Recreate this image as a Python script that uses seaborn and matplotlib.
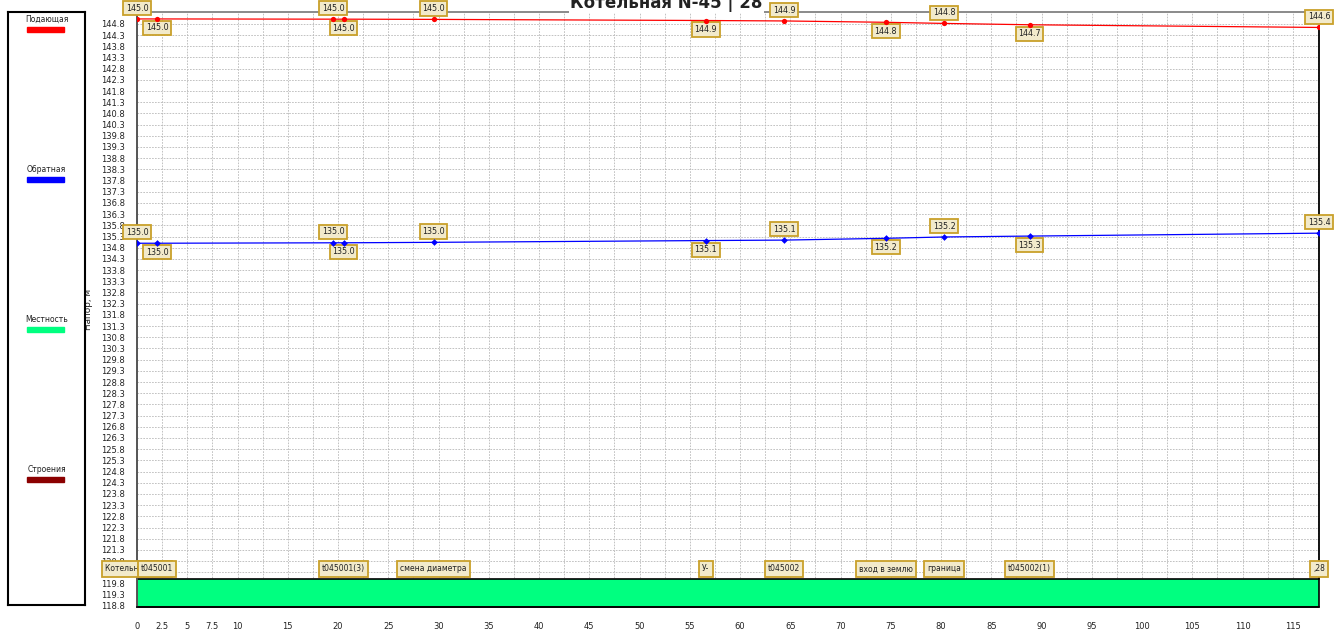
import numpy as np
import pandas as pd
import matplotlib
matplotlib.use("Agg")
import matplotlib.pyplot as plt
import seaborn as sns

# ---------------- data ----------------
title = "Котельная N-45 | 28"
node_x = [0.0, 2.0, 19.5, 20.55, 29.5, 56.6, 64.4, 74.5, 80.3, 88.8, 117.6]
supply = [145.02, 145.02, 145.01, 145.01, 145.0, 144.95, 144.93, 144.87, 144.82, 144.76, 144.64]
return_ = [135.0, 135.0, 135.02, 135.02, 135.04, 135.12, 135.14, 135.22, 135.28, 135.32, 135.45]
terrain = [120.0] * 11
node_names = ["Котельная N-45", "t045001", "", "t045001(3)", "смена диаметра", "У-",
              "t045002", "вход в землю", "граница", "t045002(1)", ",28"]
legend_names = ["Подающая", "Обратная", "Местность", "Строения"]
legend_colors = ["#ff0000", "#0000ff", "#00ff80", "#8b0000"]
y_ticks = [round(118.8 + 0.5 * i, 1) for i in range(53)]
x_labeled = [0, 2.5, 5, 7.5, 10] + list(range(15, 116, 5))

df = pd.DataFrame({"x": node_x, "supply": supply, "ret": return_, "terrain": terrain})

# ---------------- figure ----------------
sns.set_theme(style="white")
plt.rcParams["font.family"] = ["DejaVu Sans"]
W, H = 1341, 636
fig = plt.figure(figsize=(W / 100, H / 100), dpi=100)

def px_rect(l, t, r, b):
    return [l / W, 1 - b / H, (r - l) / W, (b - t) / H]

ax = fig.add_axes(px_rect(137, 12, 1319, 607))
ymin, ymax = 118.75, 145.33
xmax = 117.6
ax.set_xlim(0, xmax)
ax.set_ylim(ymin, ymax)

# terrain
ax.fill_between(df["x"], ymin, df["terrain"], color="#00ff80", edgecolor="black",
                linewidth=1.2, zorder=2)

# lines
sns.lineplot(data=df, x="x", y="supply", ax=ax, color="#ff0000", lw=0.9,
             marker="o", markersize=3.8, markeredgewidth=0, zorder=7, estimator=None)
sns.lineplot(data=df, x="x", y="ret", ax=ax, color="#0000ff", lw=0.9,
             marker="D", markersize=3.4, markeredgewidth=0, zorder=7, estimator=None)

# right vertical line at last node
ax.plot([node_x[-1], node_x[-1]], [terrain[-1], supply[-1]], color="black", lw=1.3,
        zorder=3, clip_on=False)

box = dict(boxstyle="square,pad=0.32", facecolor="#f2eacb", edgecolor="#c9a02a", lw=1.3)
nbox = dict(boxstyle="square,pad=0.4", facecolor="#f2eacb", edgecolor="#c9a02a", lw=1.3)

def trunc(v):
    return f"{np.floor(v * 10 + 1e-6) / 10:.1f}"

for series in (supply, return_):
    for i, (x, v) in enumerate(zip(node_x, series)):
        dy = 7.8 if i % 2 == 0 else -6.5
        ax.annotate(trunc(v), (x, v), xytext=(0, dy), textcoords="offset points",
                    ha="center", va="center", fontsize=5.8, color="#222222",
                    bbox=box, zorder=6, annotation_clip=False)

for x, name in zip(node_x, node_names):
    if name:
        ax.text(x, 120.45, name, ha="center", va="center", fontsize=5.5,
                color="#222222", bbox=nbox, zorder=6, clip_on=False)

# grid & ticks
xt = [2.5 * i for i in range(48)]
ax.set_xticks(xt)
ax.set_xticklabels([("%g" % t) if t in x_labeled else "" for t in xt])
ax.set_yticks(y_ticks)
ax.set_yticklabels([f"{t:.1f}" for t in y_ticks])
ax.grid(True, linestyle=(0, (2, 1.5)), color="#b8b8b8", lw=0.6)
ax.tick_params(axis="x", length=9.5, width=0.6, color="#b8b8b8", pad=1.5,
               labelsize=6.0, labelcolor="#222222")
ax.tick_params(axis="y", length=8, width=0.6, color="#b8b8b8", pad=0.5,
               labelsize=6.0, labelcolor="#222222")
ax.set_xlabel("")
ax.set_ylabel("Напор, м", fontsize=6.4, color="#222222")
ax.yaxis.set_label_coords((93 - 137) / (1319 - 137), 0.5)

ax.spines["right"].set_visible(False)
ax.spines["left"].set_color("#555555")
ax.spines["left"].set_linewidth(1.4)
ax.spines["top"].set_color("#777777")
ax.spines["top"].set_linewidth(1.2)
ax.spines["bottom"].set_color("black")
ax.spines["bottom"].set_linewidth(1.2)

# title (partly cut at top as in the reference)
fig.text(0.497, 1 - 8 / H, title, ha="center", va="baseline", fontsize=12,
         fontweight="bold", color="#222222",
         bbox=dict(facecolor="white", edgecolor="none", pad=1.0))

# legend panel
lax = fig.add_axes(px_rect(8, 12, 85, 605))
lax.set_xlim(0, 77)
lax.set_ylim(593, 0)
lax.set_xticks([])
lax.set_yticks([])
for s in lax.spines.values():
    s.set_color("black")
    s.set_linewidth(1.5)
    s.set_visible(True)
for i, (name, col) in enumerate(zip(legend_names, legend_colors)):
    y0 = 7 + 150 * i
    lax.text(38.5, y0, name, ha="center", va="center", fontsize=5.5, color="#222222")
    lax.add_patch(plt.Rectangle((19, y0 + 7.5), 37, 5, color=col))

fig.savefig("out.png", dpi=100)
